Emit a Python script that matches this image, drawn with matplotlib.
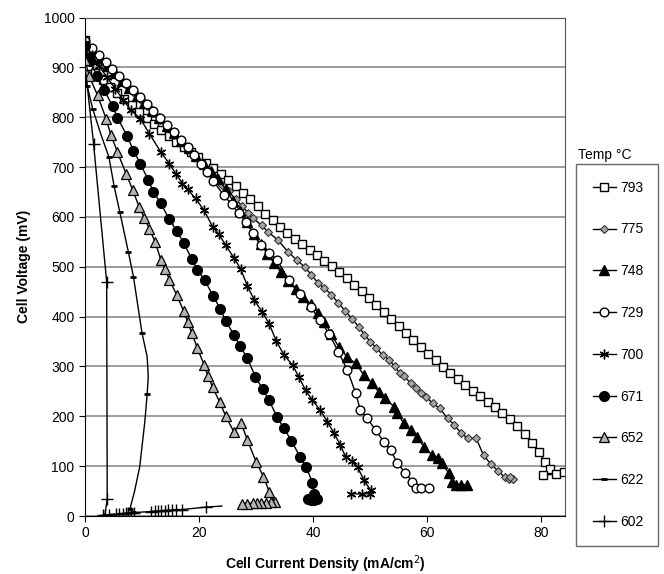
import matplotlib
matplotlib.use("Agg")
import matplotlib.pyplot as plt

plt.rcParams['font.family'] = ['Liberation Sans', 'DejaVu Sans']

# data (current mA/cm2, voltage mV)
i_793 = [0, 0.5, 1.8, 3.1, 4.4, 5.6, 6.9, 8.2, 9.5, 10.8, 12.1, 13.4, 14.7, 16.0, 17.3, 18.6, 19.9,
         21.2, 22.5, 23.8, 25.1, 26.4, 27.7, 29.0, 30.3, 31.6, 32.9, 34.2, 35.5, 36.8, 38.1, 39.4,
         40.7, 42.0, 43.3, 44.6, 45.9, 47.2, 48.5, 49.8, 51.1, 52.4, 53.7, 55.0, 56.3, 57.6, 58.9,
         60.2, 61.5, 62.8, 64.1, 65.4, 66.7, 68.0, 69.3, 70.6, 71.9, 73.2, 74.5, 75.8, 77.1, 78.4,
         79.6, 80.7, 81.5, 80.3, 82.6, 84.0]
v_793 = [955, 902, 889, 874, 861, 849, 836, 824, 810, 798, 786, 774, 762, 751, 740, 730, 720,
         709, 698, 687, 675, 662, 648, 635, 622, 606, 593, 580, 568, 556, 545, 534,
         523, 512, 501, 489, 477, 464, 451, 438, 424, 410, 396, 382, 368, 354, 340,
         326, 312, 298, 286, 274, 262, 251, 240, 229, 218, 207, 194, 180, 164, 147,
         128, 108, 94, 82, 84, 88]

i_775 = [0, 1.2, 2.4, 3.6, 4.8, 6.0, 7.2, 8.4, 9.6, 10.8, 12.0, 13.2, 14.4, 15.6, 16.8, 18.0, 19.2,
         20.4, 21.6, 22.8, 24.0, 25.2, 26.4, 27.6, 28.6, 29.5, 31.0, 32.1, 33.9, 35.6, 37.1, 38.5,
         39.7, 40.9, 42.0, 43.2, 44.4, 45.6, 46.8, 48.0, 49.0, 50.0, 51.1, 52.2, 53.4, 54.3, 55.2,
         56.0, 57.2, 58.1, 59.0, 59.8, 61.0, 62.2, 63.6, 64.8, 66.0, 67.1, 68.6, 69.9, 71.2, 72.5,
         73.6, 74.4, 75.0, 74.6]
v_775 = [950, 936, 922, 908, 893, 879, 865, 851, 836, 822, 808, 794, 779, 765, 750, 736, 722,
         708, 694, 679, 665, 651, 636, 621, 608, 597, 583, 570, 553, 530, 514, 500,
         484, 467, 457, 444, 428, 412, 396, 380, 364, 350, 337, 323, 313, 300, 287,
         280, 266, 256, 247, 239, 226, 216, 196, 182, 166, 156, 156, 122, 104, 90,
         78, 74, 75, 78]

i_748 = [0, 1.3, 2.6, 3.9, 5.2, 6.5, 7.8, 9.1, 10.4, 11.7, 13.0, 14.3, 15.6, 16.9, 18.2, 19.5,
         20.8, 22.1, 23.4, 24.7, 26.0, 27.2, 28.4, 29.6, 30.8, 32.0, 33.2, 34.3, 35.6, 37.0, 38.3,
         39.6, 40.8, 42.0, 43.2, 44.5, 46.0, 47.5, 48.9, 50.4, 51.5, 52.7, 54.2, 54.8, 55.9, 57.1,
         58.3, 59.4, 60.9, 62.0, 62.6, 63.8, 64.4, 65.0, 66.0, 67.0]
v_748 = [948, 933, 918, 903, 888, 873, 858, 843, 828, 813, 798, 783, 768, 753, 738, 722,
         707, 692, 676, 655, 632, 612, 590, 565, 545, 526, 507, 490, 472, 455, 440,
         425, 408, 390, 365, 339, 319, 306, 283, 266, 249, 236, 219, 206, 186, 172,
         159, 139, 122, 116, 106, 86, 69, 62, 62, 63]

i_729 = [0, 1.2, 2.4, 3.6, 4.8, 6.0, 7.2, 8.4, 9.6, 10.8, 12.0, 13.2, 14.4, 15.6, 16.8, 18.0,
         19.2, 20.4, 21.4, 22.4, 24.4, 25.7, 27.0, 28.2, 29.5, 30.8, 32.3, 33.7, 35.8, 37.7, 39.6,
         41.2, 42.8, 44.4, 46.0, 47.5, 48.3, 49.5, 51.0, 52.4, 53.6, 54.8, 56.2, 57.4, 58.0, 59.0,
         60.3]
v_729 = [952, 938, 924, 910, 896, 882, 868, 854, 840, 826, 812, 798, 784, 770, 755, 740,
         724, 706, 690, 673, 643, 625, 607, 590, 567, 543, 528, 513, 473, 446, 419,
         393, 366, 330, 293, 246, 212, 196, 172, 149, 132, 106, 86, 69, 57, 57,
         57]

i_700 = [0, 1.2, 2.5, 3.9, 5.3, 6.7, 8.05, 9.7, 11.3, 13.3, 14.8, 15.9, 17.1, 18.0, 19.4, 20.9,
         22.4, 23.5, 24.7, 26.1, 27.3, 28.5, 29.7, 31.1, 32.3, 33.5, 34.9, 36.4, 37.5, 38.7, 39.9,
         41.3, 42.5, 43.7, 44.8, 45.7, 46.8, 47.8, 48.9, 50.1, 50.0, 48.5, 46.6]
v_700 = [948, 925, 902, 880, 857, 835, 814, 797, 767, 730, 707, 687, 667, 655, 637, 613,
         580, 565, 543, 518, 496, 461, 433, 409, 386, 352, 323, 303, 279, 252, 232,
         212, 189, 166, 142, 119, 110, 99, 72, 52, 45, 44, 45]

i_671 = [0, 0.9, 2.1, 3.4, 4.85, 5.7, 7.4, 8.5, 9.7, 11.1, 12.0, 13.3, 14.8, 16.1, 17.3, 18.7,
         19.7, 21.0, 22.5, 23.7, 24.7, 26.1, 27.2, 28.5, 29.9, 31.2, 32.3, 33.7, 34.9, 36.2, 37.7,
         38.8, 39.9, 40.2, 40.7, 40.1, 39.6, 39.2]
v_671 = [942, 912, 883, 854, 822, 799, 762, 733, 707, 674, 650, 627, 595, 572, 548, 516,
         494, 473, 441, 416, 391, 364, 341, 316, 279, 254, 232, 198, 176, 151, 119,
         98, 67, 45, 34, 33, 33, 34]

i_652 = [0, 0.75, 2.2, 3.7, 4.55, 5.7, 7.2, 8.4, 9.5, 10.4, 11.3, 12.3, 13.3, 14.1, 14.8, 16.1,
         17.3, 18.0, 18.7, 19.7, 20.9, 21.6, 22.4, 23.6, 24.7, 26.1, 27.4, 28.5, 30.0, 31.3, 32.3,
         33.3, 32.6, 31.8, 30.9, 30.2, 29.4, 28.5, 27.6]
v_652 = [915, 882, 844, 797, 764, 730, 687, 653, 620, 598, 576, 550, 514, 495, 474, 443,
         411, 390, 368, 337, 303, 280, 258, 229, 200, 169, 186, 152, 109, 79, 49,
         28, 28, 27, 27, 26, 26, 25, 25]

# 622: curve points, markers only where the reference shows a dash
i_622 = [0, 0.4, 1.35, 2.8, 4.2, 5.1, 6.1, 7.6, 8.5, 10.0, 10.9, 11.1, 10.9, 10.5, 9.6, 8.7, 7.9, 7.5, 8.5]
v_622 = [880, 862, 817, 765, 720, 662, 610, 530, 480, 367, 320, 280, 244, 190, 99, 50, 15, 6, 8]
mark_622 = [1, 2, 4, 5, 6, 7, 8, 9, 12, 16, 17, 18]

i_602 = [0, 1.5, 3.8, 3.9, 3.5, 3.1, 4.2, 5.4, 6.0, 6.6, 7.2, 7.6,
         8.1, 8.6, 11.6, 12.2, 12.8, 13.4, 14.0, 14.6, 15.2, 16.0, 17.0, 21.3, 24.0]
v_602 = [905, 747, 470, 34, 3, 2, 3, 4, 5, 5, 6, 6,
         7, 7, 9, 10, 10, 11, 11, 12, 12, 13, 13, 18, 20]
mark_602 = list(range(1, 24))

labels = ['793', '775', '748', '729', '700', '671', '652', '622', '602']

fig = plt.figure(figsize=(6.64, 5.74), dpi=100)
ax = fig.add_axes([0.128, 0.101, 0.723, 0.8685])

ln = dict(color='black', lw=1)
ax.plot(i_793, v_793, marker='s', ms=6.3, mfc='white', mec='black', mew=1, label=labels[0], **ln)
ax.plot(i_775, v_775, marker='D', ms=4.3, mfc='#a6a6a6', mec='#333333', mew=0.8, label=labels[1], **ln)
ax.plot(i_748, v_748, marker='^', ms=6.5, mfc='black', mec='black', label=labels[2], **ln)
ax.plot(i_729, v_729, marker='o', ms=6.3, mfc='white', mec='black', mew=1, label=labels[3], **ln)
ax.plot(i_700, v_700, marker=(6, 2, 0), ms=7, mec='black', mew=1, label=labels[4], **ln)
ax.plot(i_671, v_671, marker='o', ms=7, mfc='black', mec='black', label=labels[5], **ln)
ax.plot(i_652, v_652, marker='^', ms=7, mfc='#b4b4b4', mec='black', mew=0.9, label=labels[6], **ln)
ax.plot(i_622, v_622, marker='_', ms=5, mew=2, mec='black', markevery=mark_622, label=labels[7], **ln)
ax.plot(i_602, v_602, marker='+', ms=8, mew=1, mec='black', markevery=mark_602, label=labels[8], **ln)

ax.set_xlim(0, 84.2)
ax.set_ylim(0, 1000)
ax.set_xticks([0, 20, 40, 60, 80])
ax.set_yticks(range(0, 1001, 100))
ax.yaxis.grid(True, color='#8c8c8c', lw=1.2)
ax.set_axisbelow(True)
ax.tick_params(labelsize=10, length=4, color='black')
for s in ['top', 'right']:
    ax.spines[s].set_color('#555555')

ax.set_xlabel('Cell Current Density (mA/cm$^2$)', fontsize=10, fontweight='bold', labelpad=9)
ax.set_ylabel('Cell Voltage (mV)', fontsize=10, fontweight='bold', labelpad=9)

leg = ax.legend(loc='upper left', bbox_to_anchor=(576 / 664, 1 - 540 / 574, 82 / 664, 376 / 574),
                bbox_transform=fig.transFigure, mode='expand', fontsize=10,
                labelspacing=2.0, borderpad=1.2, handlelength=1.7, handletextpad=0.3,
                fancybox=False, edgecolor='#444444', borderaxespad=0)
leg.get_frame().set_linewidth(1)
fig.text(578 / 664, 1 - 155 / 574, 'Temp \u00b0C', fontsize=10, va='center', ha='left')

fig.savefig('out.png', dpi=100)
